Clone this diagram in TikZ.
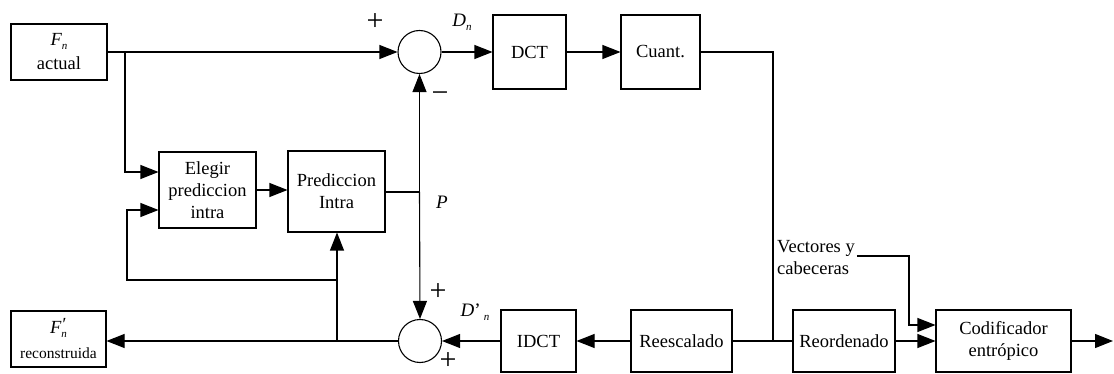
\documentclass[tikz,border=0pt]{standalone}
\usepackage{fontspec}
\setmainfont{Liberation Serif}
\usetikzlibrary{arrows.meta,calc}
\newcommand{\mysub}[1]{\raisebox{-4pt}{\fontsize{11}{11}\selectfont\textit{#1}}}
\tikzset{
  blk/.style={draw,line width=1.1pt,inner sep=0pt,align=center,font=\fontsize{18.5}{22}\selectfont},
  sumc/.style={draw,circle,line width=1.1pt,minimum size=43pt,inner sep=0pt},
  arr/.style={line width=1.1pt,-{Triangle[length=18pt,width=14pt]}},
  ln/.style={line width=1.1pt},
  lbl/.style={inner sep=0pt,font=\fontsize{19}{22}\selectfont},
  sgn/.style={inner sep=0pt,font=\fontsize{30}{30}\selectfont}
}
\begin{document}
\begin{tikzpicture}[x=1pt,y=-1pt]
\useasboundingbox (0,0) rectangle (1114,374);
% blocks
\node[blk,minimum width=96pt,minimum height=56pt] (fa) at (59,52) {\textit{F}\mysub{n}\\[2pt]actual};
\node[blk,minimum width=97pt,minimum height=76pt] (el) at (207.5,190) {Elegir\\prediccion\\intra};
\node[blk,minimum width=97pt,minimum height=81pt] (pi) at (336.5,191.5) {Prediccion\\Intra};
\node[sumc] (s1) at (419.5,52) {};
\node[blk,minimum width=73pt,minimum height=74pt] (dct) at (529.5,52) {DCT};
\node[blk,minimum width=79pt,minimum height=74pt] (cu) at (660.5,52) {Cuant.};
\node[sumc] (s2) at (420,341) {};
\node[blk,minimum width=75pt,minimum height=62pt] (idct) at (538.5,341) {IDCT};
\node[blk,minimum width=101pt,minimum height=62pt] (rs) at (681.5,341) {Reescalado};
\node[blk,minimum width=102pt,minimum height=62pt] (ro) at (844,341) {Reordenado};
\node[blk,minimum width=135pt,minimum height=62pt] (co) at (1003.5,341) {Codificador\\entrópico};
\node[blk,minimum width=95pt,minimum height=56pt] (fr) at (58.5,339) {\textit{F}\rlap{\raisebox{3pt}{\textit{\char"2032}}}\mysub{n}\\[3pt]{\fontsize{15.5}{17}\selectfont reconstruida}};
\node[lbl,align=left,font=\fontsize{18.5}{22}\selectfont] (vc) at (816,258) {Vectores y\\cabeceras};
% labels
\node[sgn] (pl1) at (375,22) {+};
\node[sgn] (mi1) at (440,97) {\char"2212};
\node[sgn] (pl2) at (438,292) {+};
\node[sgn] (pl3) at (448,361) {+};
\node[lbl] (dn) at (462,22) {\textit{D}\mysub{n}};
\node[lbl] (dpn) at (475,312) {\textit{D}'\,\mysub{n}};
\node[lbl] (pp) at (442,202) {\textit{P}};
% coordinates
\coordinate (b1) at (125,52);
\coordinate (p1) at (419.5,192);
\coordinate (j1) at (337,341);
\coordinate (j2) at (337,280);
\coordinate (j4) at (127,280);
\coordinate (j3) at (773,341);
\coordinate (c1) at (773,52);
\coordinate (v1) at (909,256);
\coordinate (out) at (1113,341);
% connectors
\draw[arr] (fa.east |- s1.west) -- (s1.west);
\draw[arr] (b1) |- ([yshift=18pt]el.west);
\draw[arr] (el.east) -- (el.east -| pi.west);
\draw[ln] (pi.east |- p1) -- (p1);
\draw[arr] (p1) -- (s1.south);
\draw[arr] (p1) -- (s2.north);
\draw[arr] (s1.east) -- (s1.east -| dct.west);
\draw[arr] (dct.east) -- (cu.west);
\draw[ln] (cu.east) -- (c1) -- (j3);
\draw[ln] (rs.east) -- (j3) -- (ro.west);
\draw[arr] (rs.west) -- (idct.east);
\draw[arr] (idct.west) -- (s2.east);
\draw[arr] (s2.west) -- (s2.west -| fr.east);
\draw[arr] (j1) -- (pi.south -| j1);
\draw[arr] (j2) -- (j4) |- ([yshift=-20pt]el.west);
\draw[arr] (ro.east) -- (co.west);
\draw[arr] ([xshift=2pt]vc.east |- v1) -- (v1) |- ([yshift=16pt]co.west);
\draw[arr] (co.east) -- (out);
\end{tikzpicture}
\end{document}
